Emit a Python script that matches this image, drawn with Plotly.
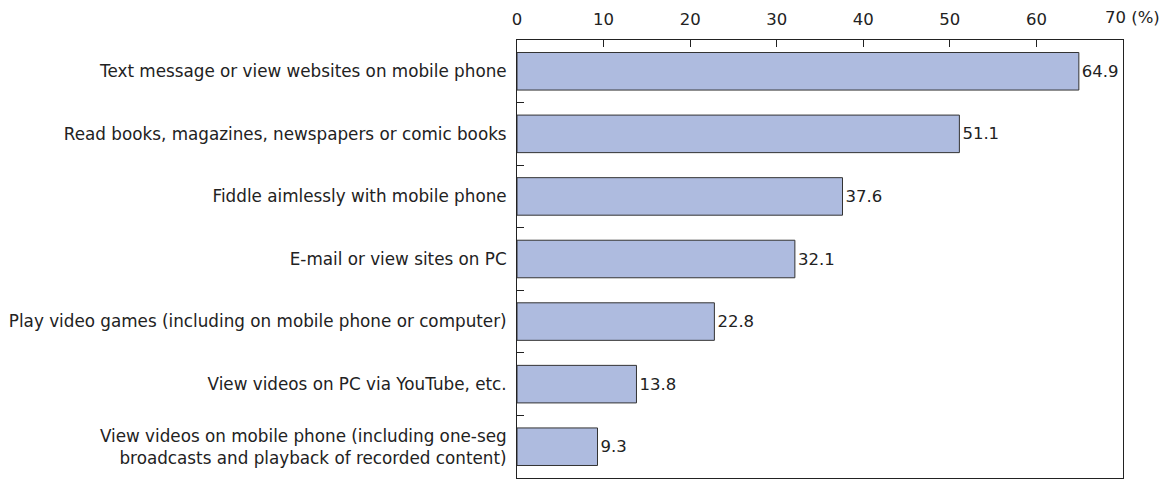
import plotly.graph_objects as go

categories = [
    "Text message or view websites on mobile phone",
    "Read books, magazines, newspapers or comic books",
    "Fiddle aimlessly with mobile phone",
    "E-mail or view sites on PC",
    "Play video games (including on mobile phone or computer)",
    "View videos on PC via YouTube, etc.",
    "View videos on mobile phone (including one-seg<br>broadcasts and playback of recorded content)",
]
values = [64.9, 51.1, 37.6, 32.1, 22.8, 13.8, 9.3]
tick_vals = [0, 10, 20, 30, 40, 50, 60, 70]
tick_text = ["0", "10", "20", "30", "40", "50", "60", ""]
last_tick_label = "70 (%)"

FONT = "DejaVu Sans, Verdana, sans-serif"

fig = go.Figure(go.Bar(
    y=categories, x=values, orientation="h",
    marker=dict(color="#AEBBDF", line=dict(color="#333333", width=1)),
    text=[f"{v:.1f}" for v in values], textposition="outside",
    textfont=dict(size=16.5, color="#222222", family=FONT),
    cliponaxis=False,
))

fig.update_layout(
    width=1172, height=489,
    margin=dict(l=517, r=49, t=40, b=11),
    plot_bgcolor="white", paper_bgcolor="white",
    bargap=0.4, showlegend=False,
    font=dict(family=FONT, size=16, color="#222222"),
    xaxis=dict(
        side="top", range=[0, 70], tickvals=tick_vals, ticktext=tick_text,
        showline=True, linecolor="#222222", linewidth=1, mirror=True,
        ticks="inside", ticklen=7, tickcolor="#222222",
        showgrid=False, zeroline=False, fixedrange=True, automargin=False,
        tickfont=dict(size=16.5), ticklabelstandoff=7,
    ),
    yaxis=dict(
        autorange="reversed", showline=True, linecolor="#222222", linewidth=1, mirror=True,
        ticks="inside", ticklen=7, tickcolor="#222222", tickson="boundaries",
        showgrid=False, tickfont=dict(size=16.8), ticklabelstandoff=6, automargin=False,
        fixedrange=True,
    ),
)
fig.add_annotation(x=tick_vals[-1], y=1, xref="x", yref="paper", yanchor="bottom", xanchor="left",
                   xshift=-19, yshift=12, text=last_tick_label, showarrow=False,
                   font=dict(size=16.5), borderpad=0)

fig.write_html("out.html", config={"displayModeBar": False},
               post_script="document.body.style.margin='0';document.body.style.overflow='hidden';")
